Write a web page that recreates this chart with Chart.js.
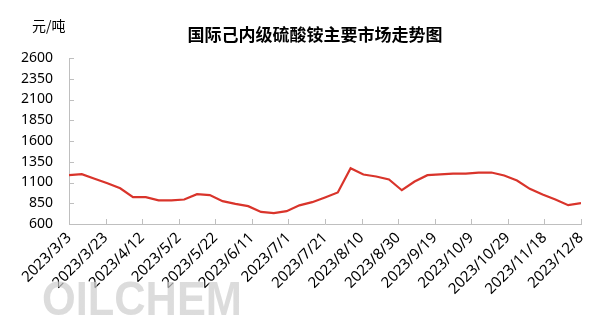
<!DOCTYPE html>
<html>
<head>
<meta charset="utf-8">
<script src="https://cdn.jsdelivr.net/npm/chart.js@4"></script>
<style>
html,body{margin:0;padding:0;background:#fff;}
canvas{display:block;}
</style>
</head>
<body>
<canvas id="c" width="599" height="322"></canvas>
<script>
// ---- data ----
const title = '国际己内级硫酸铵主要市场走势图';
const unitLabel = '元/吨';
const watermark = 'OILCHEM';
const dates = ['2023/3/3','2023/3/10','2023/3/17','2023/3/24','2023/3/31','2023/4/7','2023/4/14','2023/4/21','2023/4/28',
  '2023/5/5','2023/5/12','2023/5/19','2023/5/26','2023/6/2','2023/6/9','2023/6/16','2023/6/23','2023/6/30',
  '2023/7/7','2023/7/14','2023/7/21','2023/7/28','2023/8/4','2023/8/11','2023/8/18','2023/8/25',
  '2023/9/1','2023/9/8','2023/9/15','2023/9/22','2023/9/29','2023/10/6','2023/10/13','2023/10/20','2023/10/27',
  '2023/11/3','2023/11/10','2023/11/17','2023/11/24','2023/12/1','2023/12/8'];
const prices = [1188,1200,1145,1090,1030,923,923,885,885,
  895,960,948,875,843,815,745,732,755,
  825,863,920,980,1272,1196,1172,1136,
  1007,1112,1188,1198,1208,1208,1220,1220,1184,
  1124,1024,955,895,827,851];
const xTickLabels = ['2023/3/3','2023/3/23','2023/4/12','2023/5/2','2023/5/22','2023/6/11','2023/7/1','2023/7/21',
  '2023/8/10','2023/8/30','2023/9/19','2023/10/9','2023/10/29','2023/11/18','2023/12/8'];
const yTicks = [600,850,1100,1350,1600,1850,2100,2350,2600];

// ---- helpers ----
function dayOffset(s){
  const p = s.split('/').map(Number);
  const base = Date.UTC(2023,2,3);
  return Math.round((Date.UTC(p[0],p[1]-1,p[2]) - base)/86400000);
}
const points = dates.map((d,i)=>({x: dayOffset(d), y: prices[i]}));
const tickStep = dayOffset(xTickLabels[1]);
const xMax = dayOffset(xTickLabels[xTickLabels.length-1]);

const decor = {
  id:'decor',
  afterDraw(chart){
    const ctx = chart.ctx;
    const xs = chart.scales.x, ys = chart.scales.y;
    const ca = chart.chartArea;
    ctx.save();
    // inward tick marks
    ctx.strokeStyle = '#bfbfbf';
    ctx.lineWidth = 1;
    ctx.beginPath();
    ys.ticks.forEach(t=>{
      const y = Math.round(ys.getPixelForValue(t.value))+0.5;
      ctx.moveTo(ca.left, y); ctx.lineTo(ca.left+5, y);
    });
    xs.ticks.forEach(t=>{
      const x = Math.round(xs.getPixelForValue(t.value))+0.5;
      ctx.moveTo(x, ca.bottom); ctx.lineTo(x, ca.bottom-5);
    });
    ctx.stroke();
    // title
    ctx.fillStyle = '#000';
    ctx.font = 'bold 17px "Noto Sans CJK SC"';
    ctx.textAlign = 'center';
    ctx.textBaseline = 'middle';
    ctx.fillText(title, 315, 35);
    // unit
    ctx.font = '14px "Noto Sans CJK SC"';
    ctx.textAlign = 'left';
    ctx.fillText(unitLabel, 32, 26);
    ctx.restore();
  },
  beforeDatasetsDraw(chart){
    const ctx = chart.ctx;
    ctx.save();
    // watermark
    ctx.font = 'bold 48px "Liberation Sans", Arial, sans-serif';
    const w = ctx.measureText(watermark).width;
    const g = ctx.createLinearGradient(0, 280, 0, 315);
    g.addColorStop(0, 'rgba(205,205,205,0.7)');
    g.addColorStop(1, 'rgba(235,235,235,0.5)');
    ctx.fillStyle = g;
    ctx.textBaseline = 'alphabetic';
    ctx.translate(42, 315);
    ctx.scale(200 / w, 1);
    ctx.fillText(watermark, 0, 0);
    ctx.restore();
  }
};

new Chart(document.getElementById('c'), {
  type:'line',
  data:{
    datasets:[{
      data: points,
      borderColor:'#d9342b',
      borderWidth:2.2,
      pointRadius:0,
      tension:0,
      fill:false
    }]
  },
  options:{
    responsive:false,
    animation:false,
    devicePixelRatio:1,
    layout:{padding:{left:0,right:18,top:58,bottom:0}},
    plugins:{legend:{display:false},tooltip:{enabled:false}},
    scales:{
      x:{
        type:'linear',
        min:0,max:xMax,
        afterBuildTicks(scale){ scale.ticks = xTickLabels.map((_,i)=>({value:i*tickStep})); },
        afterFit(scale){ scale.height = 98; scale.paddingLeft = 0; scale.paddingRight = 0; },
        grid:{drawOnChartArea:false,drawTicks:false},
        border:{color:'#bfbfbf',width:1},
        ticks:{
          autoSkip:false,maxRotation:45,minRotation:45,padding:5,
          color:'#000',font:{family:'"Noto Sans", sans-serif',size:15},
          callback:(v)=>xTickLabels[Math.round(v/tickStep)]
        }
      },
      y:{
        min:600,max:2600,
        afterBuildTicks(scale){ scale.ticks = yTicks.map(v=>({value:v})); },
        afterFit(scale){ scale.width = 69; },
        grid:{drawOnChartArea:false,drawTicks:false},
        border:{color:'#bfbfbf',width:1},
        ticks:{padding:16,color:'#000',font:{family:'"Noto Sans", sans-serif',size:14},
          callback:(v)=>String(v)}
      }
    }
  },
  plugins:[decor]
});
</script>
</body>
</html>
